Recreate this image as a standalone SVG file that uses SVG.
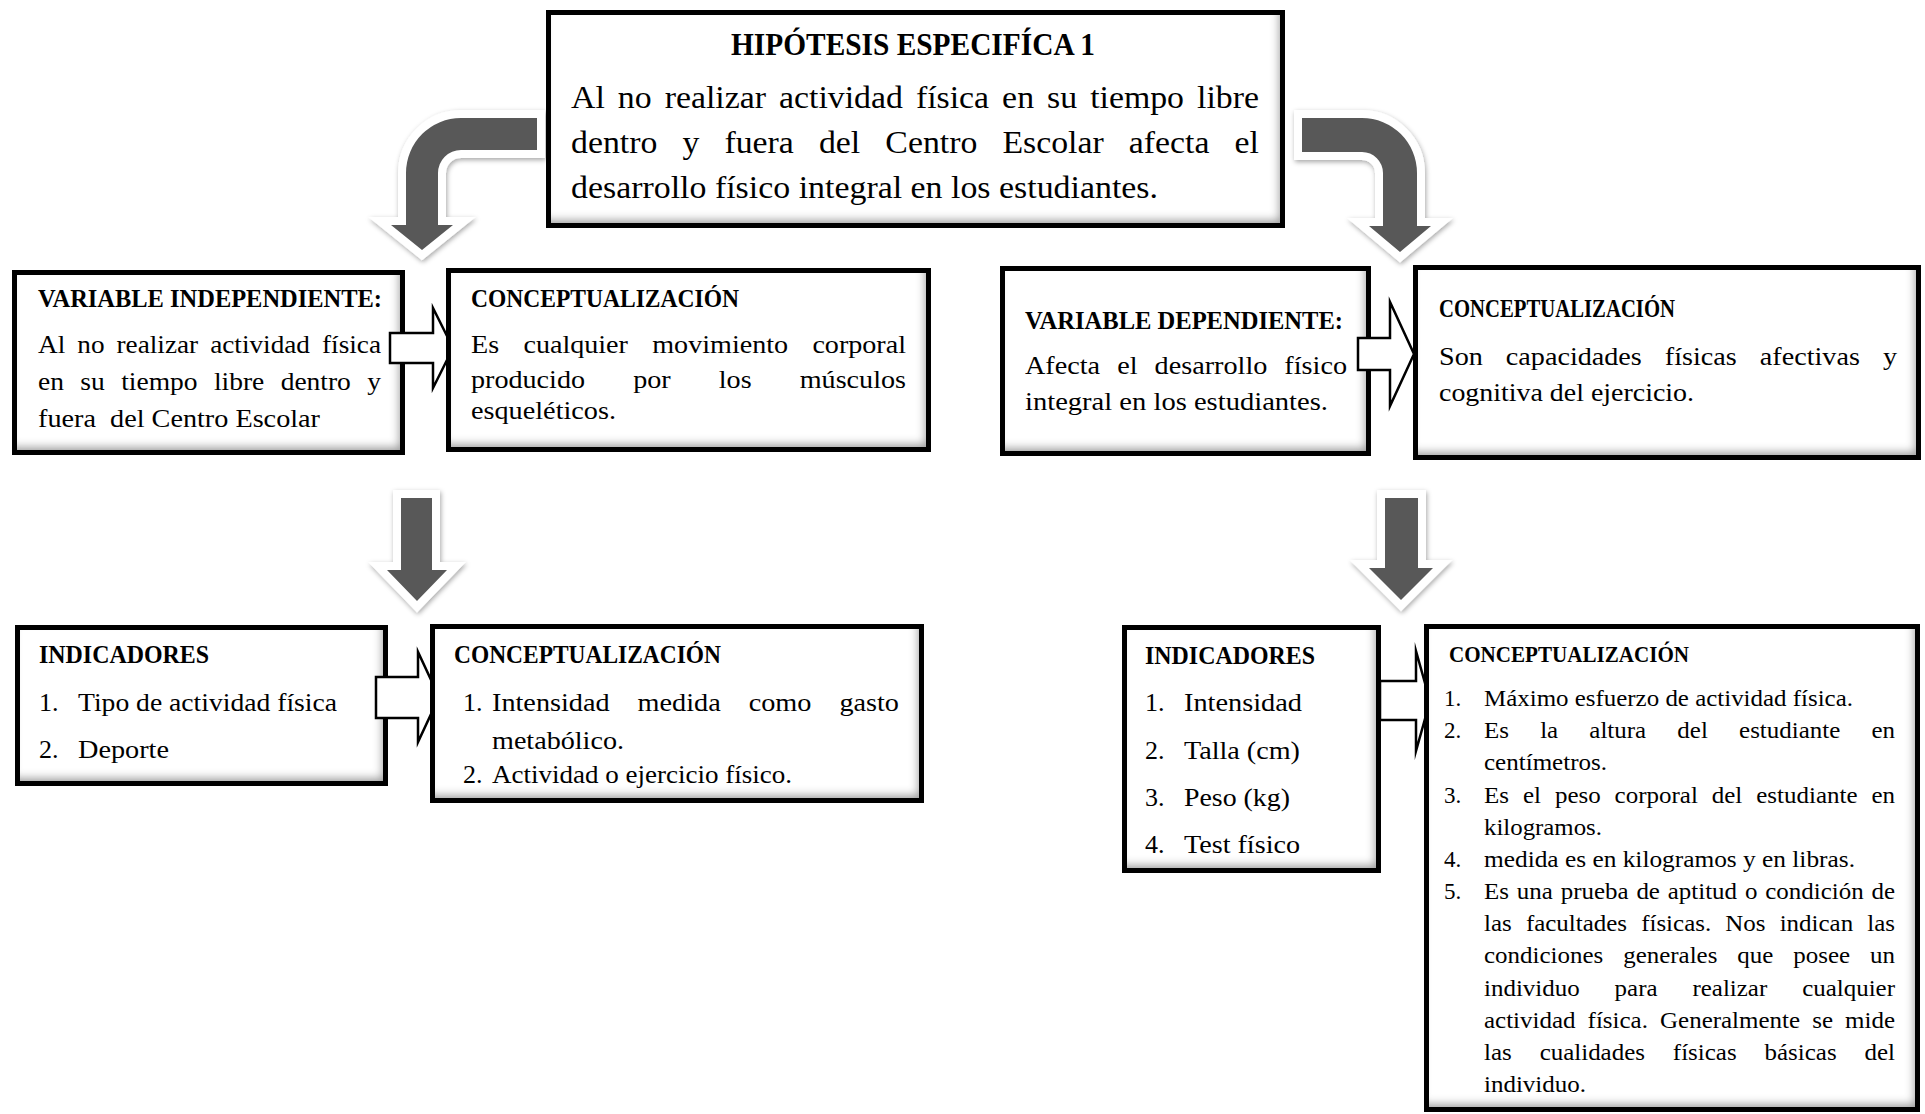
<svg xmlns="http://www.w3.org/2000/svg" width="1925" height="1114" viewBox="0 0 1925 1114">
  <defs>
    <style>
      text { font-family: "Liberation Serif", "Times New Roman", serif; fill: #000; }
      .b31 { font-size: 31px; }
      .b26 { font-size: 26px; }
      .b23 { font-size: 23px; }
      .h31 { font-size: 31px; font-weight: bold; }
      .h26 { font-size: 26px; font-weight: bold; }
      .h23 { font-size: 23px; font-weight: bold; }
      .box-fill { fill: #fff; filter: url(#inset); }
      .box-line { fill: none; stroke: #000; stroke-width: 5; }
      .big-arrow { fill: #595959; stroke: #fff; stroke-width: 16; paint-order: stroke; stroke-linejoin: miter; stroke-miterlimit: 10; filter: url(#glow); }
      .block-arrow { fill: #fff; stroke: #000; stroke-width: 2.5; stroke-linejoin: miter; stroke-miterlimit: 10; }
    </style>
    <!-- inner shadow along bottom/right edges of the boxes -->
    <filter id="inset" x="-0.1" y="-0.1" width="1.2" height="1.2">
      <feComponentTransfer in="SourceAlpha" result="inv">
        <feFuncA type="table" tableValues="1 0"/>
      </feComponentTransfer>
      <feOffset in="inv" dx="-4" dy="-6" result="off"/>
      <feGaussianBlur in="off" stdDeviation="4" result="blur"/>
      <feFlood flood-color="#404040" flood-opacity="0.7"/>
      <feComposite in2="blur" operator="in" result="sh"/>
      <feComposite in="sh" in2="SourceAlpha" operator="in" result="ish"/>
      <feMerge>
        <feMergeNode in="SourceGraphic"/>
        <feMergeNode in="ish"/>
      </feMerge>
    </filter>
    <!-- soft shadow behind the white-rimmed grey arrows -->
    <filter id="glow" x="-0.4" y="-0.4" width="1.8" height="1.8">
      <feGaussianBlur in="SourceAlpha" stdDeviation="2.5"/>
      <feOffset dx="1" dy="2" result="b"/>
      <feFlood flood-color="#000" flood-opacity="0.35"/>
      <feComposite in2="b" operator="in" result="s"/>
      <feMerge>
        <feMergeNode in="s"/>
        <feMergeNode in="SourceGraphic"/>
      </feMerge>
    </filter>
  </defs>

  <rect width="1925" height="1114" fill="#fff"/>

  <!-- hypothesis -->
  <g id="hipotesis">
    <rect class="box-fill" x="548.5" y="12.5" width="734" height="213"/>
    <rect class="box-line" x="548.5" y="12.5" width="734" height="213"/>
    <text class="h31" x="913" y="55" text-anchor="middle" textLength="364" lengthAdjust="spacingAndGlyphs">HIPÓTESIS ESPECIFÍCA 1</text>
    <text class="b31" x="571" y="108" textLength="688" lengthAdjust="spacingAndGlyphs" style="word-spacing:4.2px">Al no realizar actividad física en su tiempo libre</text>
    <text class="b31" x="571" y="153" textLength="688" lengthAdjust="spacingAndGlyphs" style="word-spacing:15.3px">dentro y fuera del Centro Escolar afecta el</text>
    <text class="b31" x="571" y="198" textLength="587" lengthAdjust="spacingAndGlyphs">desarrollo físico integral en los estudiantes.</text>
  </g>

  <!-- independent variable -->
  <g id="variable-independiente">
    <rect class="box-fill" x="14.5" y="272.5" width="388" height="180"/>
    <rect class="box-line" x="14.5" y="272.5" width="388" height="180"/>
    <text class="h26" x="38" y="307" textLength="344" lengthAdjust="spacingAndGlyphs">VARIABLE INDEPENDIENTE:</text>
    <text class="b26" x="38" y="353" textLength="343" lengthAdjust="spacingAndGlyphs" style="word-spacing:5px">Al no realizar actividad física</text>
    <text class="b26" x="38" y="389.5" textLength="343" lengthAdjust="spacingAndGlyphs" style="word-spacing:9px">en su tiempo libre dentro y</text>
    <text class="b26" x="38" y="426.5" textLength="282" lengthAdjust="spacingAndGlyphs">fuera &#160;del Centro Escolar</text>
  </g>

  <!-- dependent variable -->
  <g id="variable-dependiente">
    <rect class="box-fill" x="1002.5" y="268.5" width="366" height="185"/>
    <rect class="box-line" x="1002.5" y="268.5" width="366" height="185"/>
    <text class="h26" x="1025" y="329" textLength="318" lengthAdjust="spacingAndGlyphs">VARIABLE DEPENDIENTE:</text>
    <text class="b26" x="1025" y="374" textLength="322" lengthAdjust="spacingAndGlyphs" style="word-spacing:9.2px">Afecta el desarrollo físico</text>
    <text class="b26" x="1025" y="410" textLength="303" lengthAdjust="spacingAndGlyphs">integral en los estudiantes.</text>
  </g>

  <!-- indicators, independent side -->
  <g id="indicadores-vi">
    <rect class="box-fill" x="17.5" y="627.5" width="368" height="156"/>
    <rect class="box-line" x="17.5" y="627.5" width="368" height="156"/>
    <text class="h26" x="39" y="663" textLength="170" lengthAdjust="spacingAndGlyphs">INDICADORES</text>
    <text class="b26" x="39" y="711">1.</text>
    <text class="b26" x="78" y="711" textLength="259" lengthAdjust="spacingAndGlyphs">Tipo de actividad física</text>
    <text class="b26" x="39" y="758">2.</text>
    <text class="b26" x="78" y="758" textLength="91" lengthAdjust="spacingAndGlyphs">Deporte</text>
  </g>

  <!-- indicators, dependent side -->
  <g id="indicadores-vd">
    <rect class="box-fill" x="1124.5" y="627.5" width="254" height="243"/>
    <rect class="box-line" x="1124.5" y="627.5" width="254" height="243"/>
    <text class="h26" x="1145" y="664" textLength="170" lengthAdjust="spacingAndGlyphs">INDICADORES</text>
    <text class="b26" x="1145" y="711">1.</text>
    <text class="b26" x="1184" y="711" textLength="118" lengthAdjust="spacingAndGlyphs">Intensidad</text>
    <text class="b26" x="1145" y="759">2.</text>
    <text class="b26" x="1184" y="759" textLength="116" lengthAdjust="spacingAndGlyphs">Talla (cm)</text>
    <text class="b26" x="1145" y="806">3.</text>
    <text class="b26" x="1184" y="806" textLength="106" lengthAdjust="spacingAndGlyphs">Peso (kg)</text>
    <text class="b26" x="1145" y="853">4.</text>
    <text class="b26" x="1184" y="853" textLength="116" lengthAdjust="spacingAndGlyphs">Test físico</text>
  </g>

  <!-- connectors -->
  <g id="connectors">
    <path class="big-arrow" d="M537 118 L461 118 A55 55 0 0 0 406 173 L406 225 L391 225 L422 250 L453 225 L438 225 L438 173 A23 23 0 0 1 461 150 L537 150 Z"/>
    <path class="big-arrow" d="M1302 118 L1362 118 A55 55 0 0 1 1417 173 L1417 226 L1431 226 L1400 252 L1369 226 L1383 226 L1383 173 A21 21 0 0 0 1362 152 L1302 152 Z"/>
    <path class="big-arrow" d="M401 498 L432 498 L432 570 L447 570 L417 601 L387 570 L401 570 Z"/>
    <path class="big-arrow" d="M1385 498 L1418 498 L1418 568 L1433 568 L1401 600 L1369 568 L1385 568 Z"/>
    <path class="block-arrow" d="M390 333 L433 333 L433 308 L453 348 L433 388 L433 363 L390 363 Z"/>
    <path class="block-arrow" d="M1358 338 L1390 338 L1390 302 L1414 354 L1390 406 L1390 370 L1358 370 Z"/>
    <path class="block-arrow" d="M376 677 L418 677 L418 652 L439 697 L418 742 L418 718 L376 718 Z"/>
    <path class="block-arrow" d="M1380 681 L1416 681 L1416 651 L1430 701 L1416 751 L1416 720 L1380 720 Z"/>
  </g>

  <!-- concept of the independent variable -->
  <g id="conceptualizacion-vi">
    <rect class="box-fill" x="448.5" y="270.5" width="480" height="179"/>
    <rect class="box-line" x="448.5" y="270.5" width="480" height="179"/>
    <text class="h26" x="471" y="307" textLength="268" lengthAdjust="spacingAndGlyphs">CONCEPTUALIZACIÓN</text>
    <text class="b26" x="471" y="353" textLength="435" lengthAdjust="spacingAndGlyphs" style="word-spacing:16px">Es cualquier movimiento corporal</text>
    <text class="b26" x="471" y="388" textLength="435" lengthAdjust="spacingAndGlyphs" style="word-spacing:38px">producido por los músculos</text>
    <text class="b26" x="471" y="419" textLength="145" lengthAdjust="spacingAndGlyphs">esqueléticos.</text>
  </g>

  <!-- concept of the dependent variable -->
  <g id="conceptualizacion-vd">
    <rect class="box-fill" x="1415.5" y="267.5" width="503" height="190"/>
    <rect class="box-line" x="1415.5" y="267.5" width="503" height="190"/>
    <text class="h26" x="1439" y="317" textLength="236" lengthAdjust="spacingAndGlyphs">CONCEPTUALIZACIÓN</text>
    <text class="b26" x="1439" y="365" textLength="458" lengthAdjust="spacingAndGlyphs" style="word-spacing:14.8px">Son capacidades físicas afectivas y</text>
    <text class="b26" x="1439" y="401" textLength="255" lengthAdjust="spacingAndGlyphs">cognitiva del ejercicio.</text>
  </g>

  <!-- concept of the independent indicators -->
  <g id="conceptualizacion-ind-vi">
    <rect class="box-fill" x="432.5" y="626.5" width="489" height="174"/>
    <rect class="box-line" x="432.5" y="626.5" width="489" height="174"/>
    <text class="h26" x="454" y="663" textLength="267" lengthAdjust="spacingAndGlyphs">CONCEPTUALIZACIÓN</text>
    <text class="b26" x="463" y="711">1.</text>
    <text class="b26" x="492" y="711" textLength="407" lengthAdjust="spacingAndGlyphs" style="word-spacing:19.3px">Intensidad medida como gasto</text>
    <text class="b26" x="492" y="749" textLength="132" lengthAdjust="spacingAndGlyphs">metabólico.</text>
    <text class="b26" x="463" y="783">2.</text>
    <text class="b26" x="492" y="783" textLength="300" lengthAdjust="spacingAndGlyphs">Actividad o ejercicio físico.</text>
  </g>

  <!-- concept of the dependent indicators -->
  <g id="conceptualizacion-ind-vd">
    <rect class="box-fill" x="1426.5" y="626.5" width="491" height="483"/>
    <rect class="box-line" x="1426.5" y="626.5" width="491" height="483"/>
    <text class="h23" x="1449" y="662" textLength="240" lengthAdjust="spacingAndGlyphs">CONCEPTUALIZACIÓN</text>
    <text class="b23" x="1444" y="706">1.</text>
    <text class="b23" x="1484" y="706" textLength="369" lengthAdjust="spacingAndGlyphs">Máximo esfuerzo de actividad física.</text>
    <text class="b23" x="1444" y="738.2">2.</text>
    <text class="b23" x="1484" y="738.2" textLength="411" lengthAdjust="spacingAndGlyphs" style="word-spacing:23px">Es la altura del estudiante en</text>
    <text class="b23" x="1484" y="770.3" textLength="123" lengthAdjust="spacingAndGlyphs">centímetros.</text>
    <text class="b23" x="1444" y="802.5">3.</text>
    <text class="b23" x="1484" y="802.5" textLength="411" lengthAdjust="spacingAndGlyphs" style="word-spacing:7.1px">Es el peso corporal del estudiante en</text>
    <text class="b23" x="1484" y="834.7" textLength="118" lengthAdjust="spacingAndGlyphs">kilogramos.</text>
    <text class="b23" x="1444" y="866.8">4.</text>
    <text class="b23" x="1484" y="866.8" textLength="371" lengthAdjust="spacingAndGlyphs">medida es en kilogramos y en libras.</text>
    <text class="b23" x="1444" y="899">5.</text>
    <text class="b23" x="1484" y="899" textLength="411" lengthAdjust="spacingAndGlyphs" style="word-spacing:1.5px">Es una prueba de aptitud o condición de</text>
    <text class="b23" x="1484" y="931.2" textLength="411" lengthAdjust="spacingAndGlyphs" style="word-spacing:7.3px">las facultades físicas. Nos indican las</text>
    <text class="b23" x="1484" y="963.3" textLength="411" lengthAdjust="spacingAndGlyphs" style="word-spacing:12.6px">condiciones generales que posee un</text>
    <text class="b23" x="1484" y="995.5" textLength="411" lengthAdjust="spacingAndGlyphs" style="word-spacing:26.4px">individuo para realizar cualquier</text>
    <text class="b23" x="1484" y="1027.7" textLength="411" lengthAdjust="spacingAndGlyphs" style="word-spacing:5.4px">actividad física. Generalmente se mide</text>
    <text class="b23" x="1484" y="1059.8" textLength="411" lengthAdjust="spacingAndGlyphs" style="word-spacing:20px">las cualidades físicas básicas del</text>
    <text class="b23" x="1484" y="1092" textLength="102" lengthAdjust="spacingAndGlyphs">individuo.</text>
  </g>
</svg>
